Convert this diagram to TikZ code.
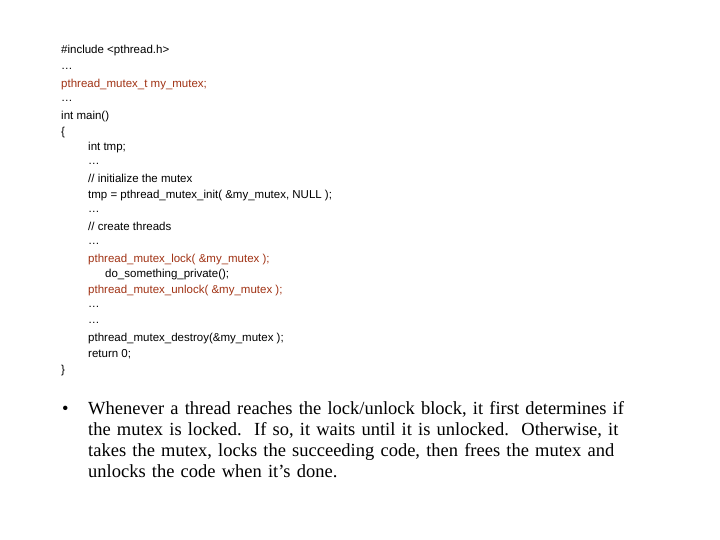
\documentclass[tikz,border=0pt]{standalone}
\usepackage{fontspec}
\setmainfont{Liberation Serif}
\newfontfamily\codefont{Liberation Sans}
\begin{document}
\begin{tikzpicture}[x=1pt,y=-1pt,
  code/.style={anchor=base west,inner sep=0pt,font=\codefont\fontsize{11.5}{13}\selectfont},
  hl/.style={code,text={rgb,255:red,160;green,50;blue,20}},
  body/.style={anchor=base west,inner sep=0pt,font=\fontsize{18.5}{21.3}\selectfont,align=left,text width=600pt}]
\useasboundingbox (0,0) rectangle (720,540);
\node[code] (l1) at (61,54) {\#include <pthread.h>};
\node[code] (l2) at (61,70) {\dots};
\node[hl] (l3) at (61,88) {pthread\_mutex\_t my\_mutex;};
\node[code] (l4) at (61,102) {\dots};
\node[code] (l5) at (61,120) {int main()};
\node[code] (l6) at (61,136) {\{};
\node[code] (l7) at (88,151) {int tmp;};
\node[code] (l8) at (88,165) {\dots};
\node[code] (l9) at (88,183) {// initialize the mutex};
\node[code] (l10) at (88,199) {tmp = pthread\_mutex\_init( \&my\_mutex, NULL );};
\node[code] (l11) at (88,212) {\dots};
\node[code] (l12) at (88,230) {// create threads};
\node[code] (l13) at (88,244) {\dots};
\node[hl] (l14) at (88,262) {pthread\_mutex\_lock( \&my\_mutex );};
\node[code] (l15) at (105,277) {do\_something\_private();};
\node[hl] (l16) at (88,293) {pthread\_mutex\_unlock( \&my\_mutex );};
\node[code] (l17) at (88,307) {\dots};
\node[code] (l18) at (88,323) {\dots};
\node[code] (l19) at (88,341) {pthread\_mutex\_destroy(\&my\_mutex );};
\node[code] (l20) at (88,357) {return 0;};
\node[code] (l21) at (61,373) {\}};
\node[anchor=base west,inner sep=0pt,font=\fontsize{18.5}{21.3}\selectfont] (bul) at (62,414) {\textbullet};
\node[body] (txt) at (88,414) {Whenever a thread reaches the lock/unlock block, it first determines if\\the mutex is locked.\ \ If so, it waits until it is unlocked.\ \ Otherwise, it\\takes the mutex, locks the succeeding code, then frees the mutex and\\unlocks the code when it's done.};
\end{tikzpicture}
\end{document}
